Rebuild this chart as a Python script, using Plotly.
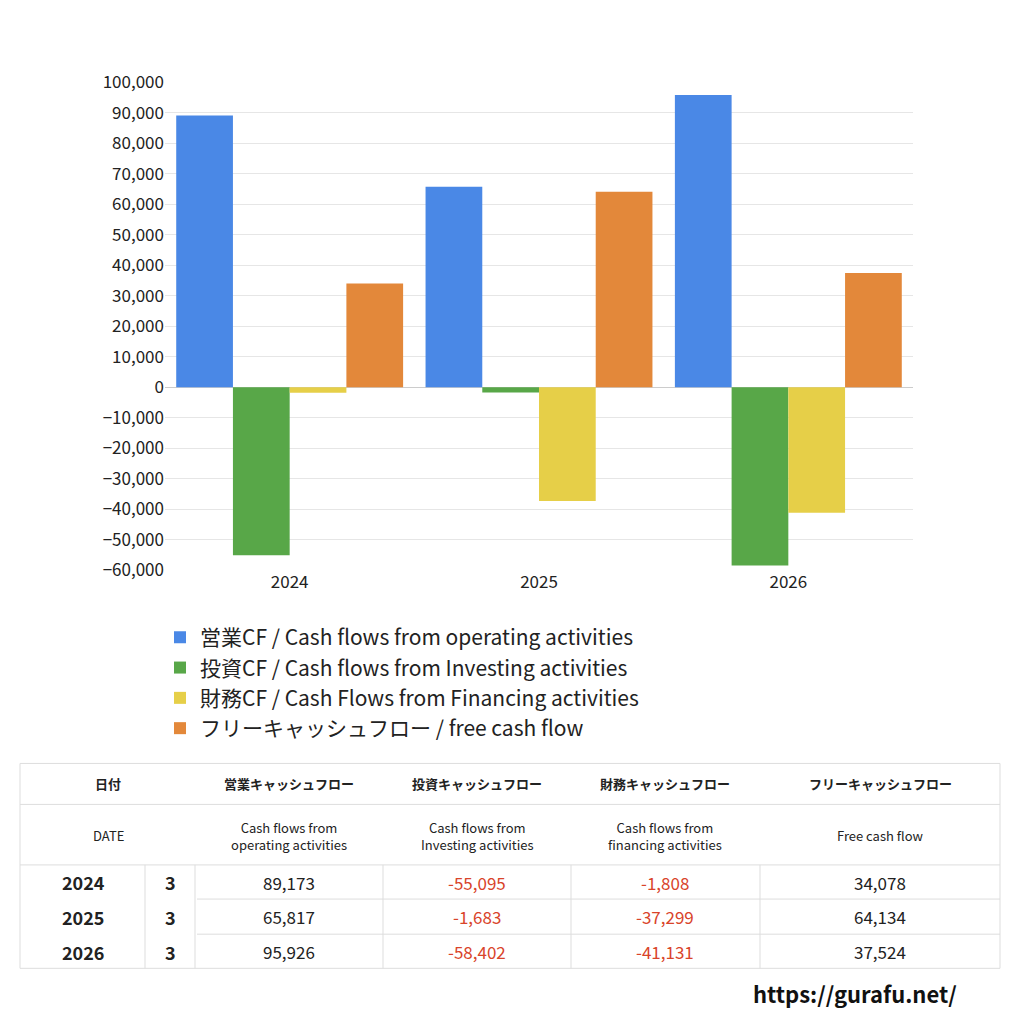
import plotly.graph_objects as go

years = ["2024", "2025", "2026"]
months = ["3", "3", "3"]
operating = [89173, 65817, 95926]
investing = [-55095, -1683, -58402]
financing = [-1808, -37299, -41131]
free_cf = [34078, 64134, 37524]
series_names = ["営業CF / Cash flows from operating activities",
                "投資CF / Cash flows from Investing activities",
                "財務CF / Cash Flows from Financing activities",
                "フリーキャッシュフロー / free cash flow"]
colors = ["#4a88e6", "#58a748", "#e6cf48", "#e3883a"]
head_jp = ["日付", "営業キャッシュフロー", "投資キャッシュフロー", "財務キャッシュフロー", "フリーキャッシュフロー"]
head_en = ["DATE", "Cash flows from<br>operating activities", "Cash flows from<br>Investing activities",
           "Cash flows from<br>financing activities", "Free cash flow"]
tick_vals = list(range(-60000, 100001, 10000))

FONT = "Noto Sans CJK JP, Noto Sans, sans-serif"
fig = go.Figure()
for name, vals, c in zip(series_names, [operating, investing, financing, free_cf], colors):
    fig.add_trace(go.Bar(x=years, y=vals, name=name, marker=dict(color=c, line=dict(width=0))))

W = 1024.0
OFF = 8
def px(x): return (x - OFF) / W
def py(y): return 1 - (y - OFF) / W

fig.update_layout(
    width=1024, height=1024, margin=dict(l=0, r=0, t=0, b=0),
    paper_bgcolor="white", plot_bgcolor="white",
    font=dict(family=FONT, color="#222"),
    barmode="group", bargap=0.09, bargroupgap=0,
    xaxis=dict(domain=[px(165), px(913)], tickfont=dict(size=17), showgrid=False, ticks=""),
    yaxis=dict(domain=[py(570), py(70)], range=[-60000, 100000], tickvals=tick_vals,
               tickformat=",", tickfont=dict(size=17), gridcolor="#e6e6e6",
               zeroline=True, zerolinecolor="#cccccc", zerolinewidth=1),
    legend=dict(x=px(160), y=py(618), xanchor="left", yanchor="top",
                font=dict(size=21, color="#222"), tracegroupgap=0, itemsizing="constant"),
    showlegend=True,
)

shapes = []
ann = []
line = dict(color="#dddddd", width=1)
def hline(y, x0=20, x1=1000):
    shapes.append(dict(type="line", xref="paper", yref="paper", x0=px(x0), x1=px(x1), y0=py(y), y1=py(y), line=line))
def vline(x, y0, y1):
    shapes.append(dict(type="line", xref="paper", yref="paper", x0=px(x), x1=px(x), y0=py(y0), y1=py(y1), line=line))
for y in [768, 810, 872, 978]:
    hline(y)
for y in [907, 943]:
    hline(y, 197, 1000)
vline(20, 768, 978); vline(1000, 768, 978)
for x in [145, 195, 383, 571, 760]:
    vline(x, 872, 978)

col_centers = [108, 289, 477, 665, 880]
for i, c in enumerate(col_centers):
    ann.append(dict(x=px(c), y=py(789), text="<b>%s</b>" % head_jp[i], font=dict(size=13)))
    ann.append(dict(x=px(c), y=py(842), text=head_en[i], font=dict(size=13)))
row_ys = [890, 925, 961]
data_cols = [operating, investing, financing, free_cf]
for r, y in enumerate(row_ys):
    ann.append(dict(x=px(83), y=py(y), text="<b>%s</b>" % years[r], font=dict(size=18)))
    ann.append(dict(x=px(170), y=py(y), text="<b>%s</b>" % months[r], font=dict(size=18)))
    for ci, vals in enumerate(data_cols):
        v = vals[r]
        ann.append(dict(x=px(col_centers[ci + 1]), y=py(y), text=f"{v:,}",
                        font=dict(size=17, color="#d9442a" if v < 0 else "#222")))
ann.append(dict(x=px(855), y=py(1003), text="<b>https://gurafu.net/</b>", font=dict(size=22, color="#111")))
for a in ann:
    a.update(xref="paper", yref="paper", showarrow=False, xanchor="center", yanchor="middle")
fig.update_layout(shapes=shapes, annotations=ann)
fig.write_html("out.html")
